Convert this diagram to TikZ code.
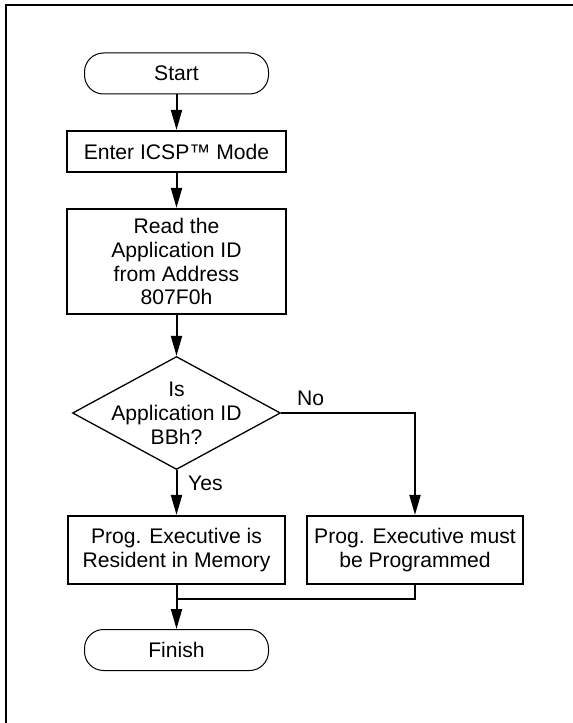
\documentclass[tikz,border=0pt]{standalone}
\usepackage{fontspec}
\setmainfont{Liberation Sans}
\usetikzlibrary{shapes.geometric,arrows.meta}
\begin{document}
\begin{tikzpicture}[x=1bp,y=-1bp,
  every node/.style={font=\fontsize{21.2}{24}\selectfont, align=center, inner sep=0pt},
  term/.style={draw, line width=1bp, rounded corners=19bp, minimum width=184bp, minimum height=41bp},
  procbox/.style={draw, line width=2.2bp, minimum width=219bp},
  decision/.style={draw, line width=1.3bp, diamond, minimum width=208bp, minimum height=113bp},
  conn/.style={line width=2bp},
  arr/.style={conn, -{Triangle[length=20bp,width=11bp]}},
  lbl/.style={font=\fontsize{21.2}{24}\selectfont}
]
\useasboundingbox (0,0) rectangle (573,723);
\draw[line width=2.5bp] (6,723) -- (6,5) -- (573,5);

\node[term] (start) at (176.5,73.5) {Start};
\node[procbox, minimum height=41bp] (enter) at (176.5,151.5) {Enter ICSP™ Mode};
\node[procbox, minimum height=105bp] (read) at (176.5,261.5) {Read the\\Application ID\\from Address\\807F0h};
\node[decision] (dec) at (176.5,413) {};
\node (dectxt) at (dec.center) {Is\\Application ID\\BBh?};
\node[procbox, minimum width=217bp, minimum height=68bp] (yesbox) at (176.5,550) {Prog. Executive is\\Resident in Memory};
\node[procbox, minimum width=216bp, minimum height=68bp] (nobox) at (415,550) {Prog. Executive must\\be Programmed};
\node[term] (finish) at (176.5,650) {Finish};
\coordinate (m) at (176.5,599);

\draw[arr] (start) -- (enter);
\draw[arr] (enter) -- (read);
\draw[arr] (read) -- (dec);
\draw[arr] (dec.south) -- (yesbox.north);
\draw[arr] (dec.east) -| (nobox.north);
\draw[arr] (yesbox.south) -- (finish.north);
\draw[conn] (nobox.south) |- (m);

\node[lbl, anchor=west] (yes) at (188,483) {Yes};
\node[lbl, anchor=west] (no) at (297,398) {No};
\end{tikzpicture}
\end{document}
